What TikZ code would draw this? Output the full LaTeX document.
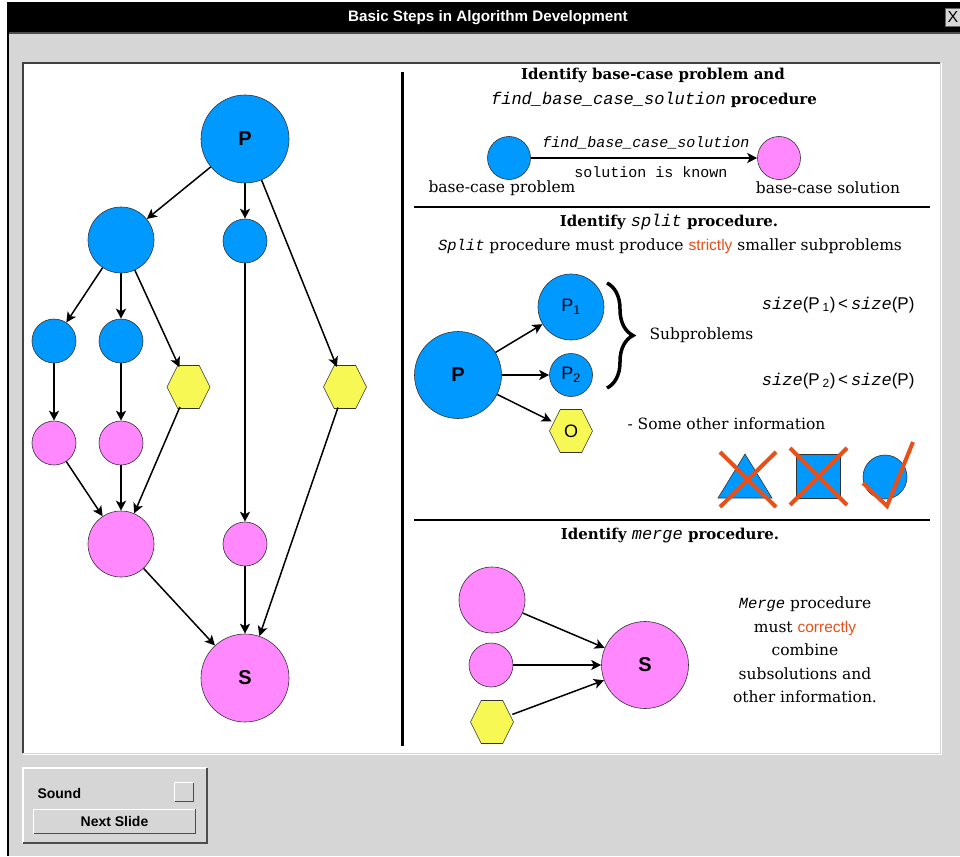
\documentclass[tikz,border=0pt]{standalone}
\usepackage{fontspec}
\setmainfont{DejaVu Serif}
\setsansfont{Liberation Sans}
\setmonofont{Liberation Mono}
\usetikzlibrary{arrows.meta,shapes.geometric,decorations.pathreplacing,calc}
\definecolor{nblue}{HTML}{0099FF}
\definecolor{npink}{HTML}{FF88FF}
\definecolor{nyellow}{HTML}{F8F855}
\definecolor{hot}{HTML}{E8501A}
\definecolor{wingray}{HTML}{D6D6D6}
\newcommand\hexat[1]{\path[hexfill] (#1) ++(-21.5,0) -- ++(10.75,-21.5) -- ++(21.5,0) -- ++(10.75,21.5) -- ++(-10.75,21.5) -- ++(-21.5,0) -- cycle;}
\newcommand\mtt[1]{{\ttfamily\itshape #1}}
\tikzset{
  circ/.style={circle,draw=black!80,line width=0.6pt,inner sep=0,font=\sffamily\bfseries\fontsize{20}{20}\selectfont},
  bnode/.style={circ,fill=nblue},
  pnode/.style={circ,fill=npink},
  hexanchor/.style={circle,minimum size=43pt,inner sep=0,font=\sffamily\bfseries\fontsize{18}{18}\selectfont},
  hexfill/.style={fill=nyellow,draw=black!80,line width=0.6pt},
  edge/.style={line width=1.5pt,-{Stealth[length=10pt,width=10pt,inset=2.5pt]}},
  head/.style={font=\bfseries\fontsize{15}{18}\selectfont},
  body/.style={font=\fontsize{15.5}{18}\selectfont},
  cross/.style={hot,line width=4pt},
  divider/.style={line width=2.5pt},
}
\begin{document}
\begin{tikzpicture}[x=1pt,y=-1pt]
\useasboundingbox (0,0) rectangle (960,856);
% window
\fill[white] (0,0) rectangle (960,856);
\fill[wingray] (8,32) rectangle (960,856);
\fill[black] (8,2) rectangle (960,32);
\draw[black!70,line width=2pt] (8,33) -- (960,33);
\draw[black,line width=1.5pt] (8,2) -- (8,856);
\node[text=white,font=\sffamily\bfseries\fontsize{15.2}{17}\selectfont] (title) at (488,18) {Basic Steps in Algorithm Development};
\node[draw=black!60,fill=wingray,minimum width=16pt,minimum height=18pt,inner sep=0,font=\sffamily\fontsize{16}{16}\selectfont] (close) at (953,17) {X};
% white panel
\fill[white] (23,63) rectangle (940,753);
\draw[black!75,line width=2pt] (23,753) -- (23,63) -- (940,63);
\draw[white,line width=1pt] (23,754) -- (941,754) -- (941,63);
% ===== left graph =====
\node[bnode,minimum size=88pt] (P) at (245,139) {P};
\node[bnode,minimum size=66pt] (A) at (121,240) {};
\node[bnode,minimum size=44pt] (B) at (245,241) {};
\node[bnode,minimum size=44pt] (C1) at (54,341) {};
\node[bnode,minimum size=44pt] (C2) at (121,341) {};
\coordinate (h1c) at (188.5,387);
\coordinate (h2c) at (345,387);
\hexat{h1c}
\hexat{h2c}
\node[hexanchor] (H1) at (h1c) {};
\node[hexanchor] (H2) at (h2c) {};
\node[pnode,minimum size=44pt] (D1) at (54,443) {};
\node[pnode,minimum size=44pt] (D2) at (121,443) {};
\node[pnode,minimum size=66pt] (E) at (121,544) {};
\node[pnode,minimum size=44pt] (F) at (245,544) {};
\node[pnode,minimum size=88pt] (S) at (245,678) {S};
\draw[edge] (P) -- (A);
\draw[edge] (P) -- (B);
\draw[edge] (P) -- (H2);
\draw[edge] (A) -- (C1);
\draw[edge] (A) -- (C2);
\draw[edge] (A) -- (H1);
\draw[edge] (C1) -- (D1);
\draw[edge] (C2) -- (D2);
\draw[edge] (D1) -- (E);
\draw[edge] (D2) -- (E);
\draw[edge] (H1) -- (E);
\draw[edge] (B) -- (F);
\draw[edge] (E) -- (S);
\draw[edge] (F) -- (S);
\draw[edge] (H2) -- (S);
% ===== dividers =====
\coordinate (vtop) at (402,72);
\coordinate (vbot) at (402,746);
\draw[divider,line width=3pt] (vtop) -- (vbot);
\coordinate (l1a) at (414,207); \coordinate (l1b) at (930,207);
\coordinate (l2a) at (414,520); \coordinate (l2b) at (930,520);
\draw[divider] (l1a) -- (l1b);
\draw[divider] (l2a) -- (l2b);
% ===== section 1 =====
\node[head] (h1a) at (653,75) {Identify base-case problem and};
\node[head] (h1b) at (654,100) {{\fontsize{17}{18}\selectfont\mtt{\mdseries find\_base\_case\_solution}} procedure};
\node[bnode,minimum size=43pt] (bcp) at (509,158) {};
\node[pnode,minimum size=43pt] (bcs) at (779,158) {};
\draw[edge] (bcp) -- (bcs);
\node[font=\ttfamily\itshape\fontsize{15}{16}\selectfont] (fbl) at (646,143) {find\_base\_case\_solution};
\node[font=\ttfamily\fontsize{15}{16}\selectfont] (sik) at (651,172) {solution is known};
\node[body] (bcpl) at (502,188) {base-case problem};
\node[body] (bcsl) at (828,188) {base-case solution};
% ===== section 2 =====
\node[head] (h2a) at (669,222) {Identify {\fontsize{17}{18}\selectfont\mtt{\mdseries split}} procedure.};
\node[body] (h2b) at (670,246) {\mtt{Split} procedure must produce \textcolor{hot}{\sffamily strictly} smaller subproblems};
\node[bnode,minimum size=87pt] (SP) at (458,375) {P};
\node[bnode,minimum size=66pt,font=\sffamily\fontsize{18}{18}\selectfont] (SP1) at (571,307) {P\textsubscript{1}};
\node[bnode,minimum size=43pt,font=\sffamily\fontsize{18}{18}\selectfont] (SP2) at (571,375) {P\textsubscript{2}};
\coordinate (ohc) at (571,431);
\hexat{ohc}
\node[hexanchor,font=\sffamily\fontsize{18}{18}\selectfont] (SO) at (ohc) {O};
\draw[edge] (SP) -- (SP1);
\draw[edge] (SP) -- (SP2);
\draw[edge] (SP) -- (SO);
\coordinate (brt) at (607,283);
\coordinate (brb) at (607,388);
\draw[line width=3.5pt,decorate,decoration={brace,amplitude=26pt}] (brt) -- (brb);
\node[body,anchor=west] (subp) at (646,335) {Subproblems};
\node[body,anchor=east,font=\fontsize{17}{18}\selectfont] (sz1) at (918,305) {\mtt{size}{\sffamily(P\,\textsubscript{1})\,<\,}\mtt{size}{\sffamily(P)}};
\node[body,anchor=east,font=\fontsize{17}{18}\selectfont] (sz2) at (918,381) {\mtt{size}{\sffamily(P\,\textsubscript{2})\,<\,}\mtt{size}{\sffamily(P)}};
\node[body,anchor=west] (soi) at (624,424) {- Some other information};
% triangle
\path[fill=nblue,draw=black!80,line width=0.6pt] (745,454) -- (772,498) -- (718,498) -- cycle;
\draw[cross] (720,452) -- (776,507);
\draw[cross] (776,452) -- (720,507);
% square
\path[fill=nblue,draw=black!80,line width=0.6pt] (796,454) rectangle (840,498);
\draw[cross] (790,448) -- (847,505);
\draw[cross] (847,448) -- (790,505);
% circle with check
\node[bnode,minimum size=44pt] (okc) at (885,477) {};
\draw[cross,line join=miter] (863,483) -- (887,506) -- (913,442);
% ===== section 3 =====
\node[head] (h3a) at (670,536) {Identify {\fontsize{17}{18}\selectfont\mtt{\mdseries merge}} procedure.};
\node[pnode,minimum size=66pt] (M1) at (492,600) {};
\node[pnode,minimum size=44pt] (M2) at (491,665) {};
\coordinate (m3c) at (492,722);
\hexat{m3c}
\node[hexanchor] (M3) at (m3c) {};
\node[pnode,minimum size=87pt] (MS) at (645,665) {S};
\draw[edge] (M1) -- (MS);
\draw[edge] (M2) -- (MS);
\draw[edge] (M3) -- (MS);
\node[align=center,font=\fontsize{15.5}{23.5}\selectfont] (mtxt) at (805,650) {\mtt{Merge} procedure\\must \textcolor{hot}{\sffamily correctly}\\combine\\subsolutions and\\other information.};
% ===== bottom controls =====
\path[fill=wingray] (23,768) rectangle (207,843);
\draw[white,line width=1.2pt] (23,843) -- (23,768) -- (207,768);
\draw[black!70,line width=1.2pt] (23,843) -- (207,843) -- (207,768);
\node[anchor=west,font=\sffamily\bfseries\fontsize{14}{16}\selectfont] (snd) at (34,793) {Sound};
\node[fill=wingray,minimum width=18pt,minimum height=18pt,inner sep=0] (chk) at (184,792) {};
\draw[white,line width=1pt] (chk.south west) -- (chk.north west) -- (chk.north east);
\draw[black!70,line width=1pt] (chk.south west) -- (chk.south east) -- (chk.north east);
\node[fill=wingray,minimum width=161pt,minimum height=24pt,inner sep=0,font=\sffamily\bfseries\fontsize{14}{16}\selectfont] (next) at (114.5,821.5) {Next Slide};
\draw[white,line width=1pt] (next.south west) -- (next.north west) -- (next.north east);
\draw[black!70,line width=1pt] (next.south west) -- (next.south east) -- (next.north east);
\end{tikzpicture}
\end{document}
